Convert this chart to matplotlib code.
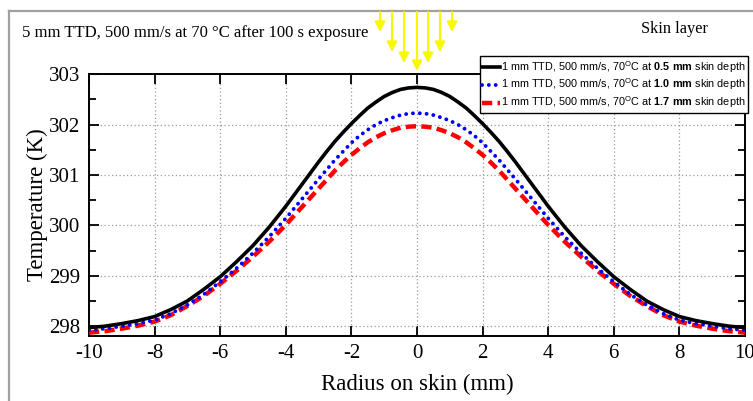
import matplotlib
matplotlib.use("Agg")
import matplotlib.pyplot as plt
from matplotlib.ticker import MultipleLocator

plt.rcParams['font.family'] = ['Liberation Serif', 'DejaVu Serif']
plt.rcParams['axes.unicode_minus'] = False
plt.rcParams['mathtext.fontset'] = 'custom'
plt.rcParams['mathtext.rm'] = 'Liberation Sans'
plt.rcParams['mathtext.bf'] = 'Liberation Sans:bold'

# ---- data ----
radius = [-10, -9.5, -9, -8.5, -8, -7.5, -7, -6.5, -6, -5.5, -5, -4.5, -4, -3.5, -3,
          -2.75, -2.5, -2.25, -2, -1.75, -1.5, -1.25, -1, -0.75, -0.5, -0.25, 0,
          0.25, 0.5, 0.75, 1, 1.25, 1.5, 1.75, 2, 2.25, 2.5, 2.75,
          3, 3.5, 4, 4.5, 5, 5.5, 6, 6.5, 7, 7.5, 8, 8.5, 9, 9.5, 10]
temp_05 = [297.97, 298.00, 298.05, 298.11, 298.19, 298.33, 298.50, 298.73, 298.98, 299.28,
           299.60, 299.97, 300.38, 300.82, 301.26,
           301.47, 301.67, 301.85, 302.02, 302.18, 302.33, 302.45, 302.56, 302.64, 302.70, 302.73,
           302.74,
           302.73, 302.70, 302.64, 302.56, 302.45, 302.33, 302.18, 302.02, 301.85, 301.67, 301.47,
           301.26, 300.82, 300.38, 299.97, 299.60, 299.28, 298.98, 298.73, 298.50, 298.33,
           298.19, 298.11, 298.05, 298.00, 297.97]
temp_10 = [297.92, 297.95, 298.00, 298.05, 298.12, 298.25, 298.42, 298.63, 298.88, 299.15,
           299.45, 299.78, 300.14, 300.53, 300.92,
           301.11, 301.30, 301.47, 301.64, 301.78, 301.90, 302.00, 302.08, 302.14, 302.19, 302.22,
           302.23,
           302.22, 302.19, 302.14, 302.08, 302.00, 301.90, 301.78, 301.64, 301.47, 301.30, 301.11,
           300.92, 300.53, 300.14, 299.78, 299.45, 299.15, 298.88, 298.63, 298.42, 298.25,
           298.12, 298.05, 298.00, 297.95, 297.92]
temp_17 = [297.87, 297.90, 297.95, 298.01, 298.09, 298.22, 298.40, 298.60, 298.84, 299.10,
           299.38, 299.68, 300.01, 300.37, 300.73,
           300.91, 301.09, 301.25, 301.40, 301.53, 301.65, 301.75, 301.83, 301.89, 301.94, 301.96,
           301.97,
           301.96, 301.94, 301.89, 301.83, 301.75, 301.65, 301.53, 301.40, 301.25, 301.09, 300.91,
           300.73, 300.37, 300.01, 299.68, 299.38, 299.10, 298.84, 298.60, 298.40, 298.22,
           298.09, 298.01, 297.95, 297.90, 297.87]
labels = [r"1 mm TTD, 500 mm/s, 70$^{\mathrm{O}}$C at $\mathbf{0.5\ mm}$ skin depth",
          r"1 mm TTD, 500 mm/s, 70$^{\mathrm{O}}$C at $\mathbf{1.0\ mm}$ skin depth",
          r"1 mm TTD, 500 mm/s, 70$^{\mathrm{O}}$C at $\mathbf{1.7\ mm}$ skin depth"]
title_text = "5 mm TTD, 500 mm/s at 70 °C after 100 s exposure"
corner_text = "Skin layer"

W, H = 753, 401
fig = plt.figure(figsize=(W / 100, H / 100), dpi=100)
ax = fig.add_axes([89 / W, 1 - 335.7 / H, (745 - 89) / W, (335.7 - 74.3) / H])

ax.plot(radius, temp_05, color='black', lw=2.6, label=labels[0], zorder=5)
ax.plot(radius, temp_10, color='#0000ff', lw=2.8, linestyle=(0, (0.01, 1.75)),
        dash_capstyle='round', label=labels[1], zorder=4)
ax.plot(radius, temp_17, color='#ff0000', lw=3.2, linestyle=(0, (2.3, 1.2)),
        label=labels[2], zorder=3)

ax.set_xlim(-10, 10)
ax.set_ylim(297.81, 303)
ax.xaxis.set_major_locator(MultipleLocator(2))
ax.yaxis.set_major_locator(MultipleLocator(1))
ax.yaxis.set_minor_locator(MultipleLocator(0.5))
ax.tick_params(which='both', direction='in', top=True, right=True, width=1.3,
               labelsize=15, pad=6)
ax.tick_params(which='major', length=7)
ax.tick_params(which='minor', length=5)
ax.grid(True, which='major', color='#9a9a9a', linestyle=(0, (1, 2)), lw=0.9)
for s in ax.spines.values():
    s.set_linewidth(1.4)

ax.set_xlabel("Radius on skin (mm)", fontsize=16.5, labelpad=8)
ax.set_ylabel("Temperature (K)", fontsize=16.5, labelpad=1)

leg = ax.legend(loc='upper right', bbox_to_anchor=(748 / W, 1 - 56 / H),
                bbox_transform=fig.transFigure, borderaxespad=0,
                prop={'family': 'Liberation Sans', 'size': 7.8},
                handlelength=1.6, handletextpad=0.1, labelspacing=0.2,
                borderpad=0.25, fancybox=False, framealpha=1, edgecolor='black')
leg.get_frame().set_linewidth(1.0)
leg.set_zorder(10)

fig.text(22 / W, 1 - 33 / H, title_text, fontsize=12, va='center', ha='left')
fig.text(674 / W, 1 - 29 / H, corner_text, fontsize=11.8, va='center', ha='center')

# gray frame lines (left and top)
fig.add_artist(plt.Line2D([9 / W, 9 / W], [1 - 11 / H, 0], transform=fig.transFigure,
                          color='#a0a0a0', lw=1.6))
fig.add_artist(plt.Line2D([9 / W, 752 / W], [1 - 11 / H, 1 - 11 / H],
                          transform=fig.transFigure, color='#a0a0a0', lw=1.6))

# yellow arrows
arrow_x = [380, 392, 404, 417, 428, 440, 452]
arrow_tip = [32, 52, 63, 71, 63, 52, 32]
for xa, ya in zip(arrow_x, arrow_tip):
    fig.add_artist(matplotlib.patches.FancyArrowPatch(
        (xa / W, 1 - 12 / H), (xa / W, 1 - ya / H), transform=fig.transFigure,
        arrowstyle='-|>,head_length=6,head_width=3', color='#f8f800', lw=1.5,
        mutation_scale=1, shrinkA=0, shrinkB=0, zorder=20))

fig.savefig("out.png", dpi=100)
